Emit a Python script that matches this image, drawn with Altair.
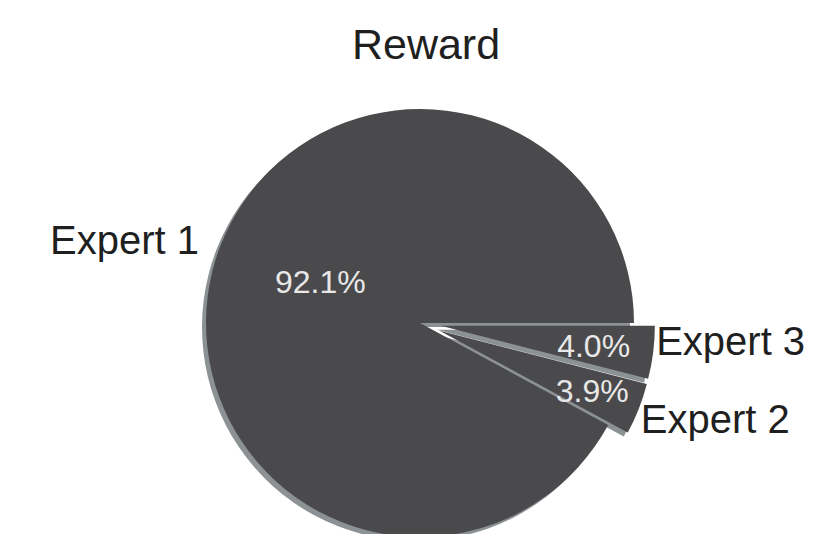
import math
import altair as alt
import pandas as pd

# ---- data ----
labels = ["Expert 3", "Expert 2", "Expert 1"]
shares = [4.0, 3.9, 92.1]
pct_text = ["4.0%", "3.9%", "92.1%"]
title_text = "Reward"

df = pd.DataFrame({"label": labels, "share": shares, "pct": pct_text})
df["end"] = df["share"].cumsum()
df["start"] = df["end"] - df["share"]
df["mid"] = (df["start"] + df["end"]) / 2

# ---- layout / style ----
W, H = 804, 526
PAD_TOP = 70
PH = H - PAD_TOP
CX, CY = 412, 245
R = 214
EXPLODE = {"Expert 3": 21, "Expert 2": 21, "Expert 1": 0}
SHADOW_DX, SHADOW_DY = -4, 4
FILL = "#4a4a4c"
SHADOW_FILL = "#8c9194"
FONT = "Liberation Sans"
LABEL_COLOR = "#1f1f1f"
PCT_COLOR = "#e8e8e8"

# label placement: (pct radius, pct dx, pct dy, label radius, label dx, label dy, align)
TEXT_STYLE = {
    "Expert 1": (110, 7, -3, 230, 2, -13, "right"),
    "Expert 3": (153, 1, 12, 214, 3, 3, "left"),
    "Expert 2": (163, 1, 12, 214, 2, 24, "left"),
}

theta_scale = alt.Scale(domain=[0, 100], range=[math.pi / 2, math.pi / 2 + 2 * math.pi])

base = alt.Chart(df)


def center_of(lab):
    mid = float(df.loc[df.label == lab, "mid"].iloc[0])
    a = math.radians(mid / 100 * 360)
    e = EXPLODE[lab]
    return CX + e * math.cos(a), CY + e * math.sin(a)


shadow_layers, arc_layers, text_layers = [], [], []
for lab in labels:
    cx, cy = center_of(lab)
    sub = base.transform_filter(alt.datum.label == lab)
    shadow_layers.append(
        sub.mark_arc(outerRadius=R, fill=SHADOW_FILL).encode(
            theta=alt.Theta("start:Q", scale=theta_scale),
            theta2="end:Q",
            x=alt.value(cx + SHADOW_DX),
            y=alt.value(cy + SHADOW_DY),
        )
    )
    arc_layers.append(
        sub.mark_arc(outerRadius=R, fill=FILL).encode(
            theta=alt.Theta("start:Q", scale=theta_scale),
            theta2="end:Q",
            x=alt.value(cx),
            y=alt.value(cy),
            tooltip=["label:N", "share:Q"],
        )
    )
    pr, pdx, pdy, lr, ldx, ldy, align = TEXT_STYLE[lab]
    text_layers.append(
        sub.mark_text(
            font=FONT, fontSize=32, color=PCT_COLOR, align="center",
            baseline="alphabetic", dx=pdx, dy=pdy,
        ).encode(
            theta=alt.Theta("mid:Q", scale=theta_scale),
            radius=alt.value(pr),
            x=alt.value(cx),
            y=alt.value(cy),
            text="pct:N",
        )
    )
    text_layers.append(
        sub.mark_text(
            font=FONT, fontSize=40, color=LABEL_COLOR, align=align,
            baseline="alphabetic", dx=ldx, dy=ldy,
        ).encode(
            theta=alt.Theta("mid:Q", scale=theta_scale),
            radius=alt.value(lr),
            x=alt.value(cx),
            y=alt.value(cy),
            text="label:N",
        )
    )

chart = alt.layer(*shadow_layers, *arc_layers, *text_layers).properties(
    width=W,
    height=PH,
    padding={"top": PAD_TOP, "left": 0, "right": 0, "bottom": 0},
    autosize=alt.AutoSizeParams(type="none"),
    title=alt.TitleParams(
        text=title_text, font=FONT, fontSize=43, fontWeight="normal",
        color=LABEL_COLOR, anchor="middle", baseline="alphabetic",
        offset=21, dx=16, dy=45,
    ),
).configure(background="white").configure_view(stroke=None)

chart.save("out.html", embed_options={"renderer": "svg", "actions": False})
